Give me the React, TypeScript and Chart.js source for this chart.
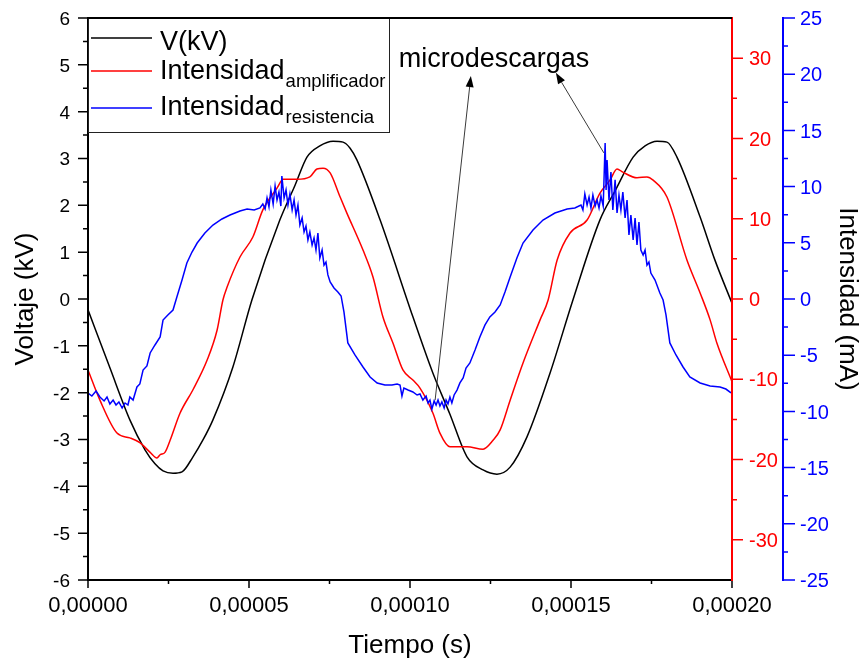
import { useEffect, useRef } from "react";
import { Chart, registerables } from "chart.js";

Chart.register(...registerables);

// Time in microseconds; the axis labels show seconds with a decimal comma
const timeTicks = [0, 50, 100, 150, 200];
const timeTickLabels = ["0,00000", "0,00005", "0,00010", "0,00015", "0,00020"];
const voltageTicks = [-6, -5, -4, -3, -2, -1, 0, 1, 2, 3, 4, 5, 6];
const ampTicks = [-30, -20, -10, 0, 10, 20, 30];
const resTicks = [-25, -20, -15, -10, -5, 0, 5, 10, 15, 20, 25];

// V(kV)
const voltageTime = [
  0, 6.8, 13.0, 17.7, 20.8, 23.3, 26.4, 29.2, 32.6, 35.7,
  38.8, 45.0, 50.9, 59.6, 64.3, 68.0, 72.0, 76.1, 79.2, 81.4,
  83.5, 90.7, 100.9, 107.1, 112.4, 117.7, 122.7, 127.0, 131.1, 136.3,
  143.5, 150.6, 159.0, 163.7, 169.3, 173.0, 176.7, 179.8, 182.9, 190.1,
  194.7, 200,
];
const voltageKV = [
  -0.23, -1.47, -2.58, -3.22, -3.52, -3.67, -3.72, -3.69, -3.37, -3.01,
  -2.58, -1.45, -0.02, 1.69, 2.43, 3.03, 3.27, 3.37, 3.35, 3.22,
  2.97, 1.69, -0.38, -1.58, -2.46, -3.37, -3.65, -3.74, -3.59, -2.95,
  -1.58, -0.02, 1.69, 2.31, 3.03, 3.27, 3.37, 3.35, 3.03, 1.75,
  0.83, -0.09,
];

// Intensidad (amplificador), mA
const ampTime = [
  0, 3.7, 9.0, 13.0, 16.1, 19.3, 21.4, 22.4, 23.9, 25.5,
  28.6, 32.6, 37.0, 40.1, 41.9, 43.2, 47.2, 51.2, 54.3, 58.7,
  60.6, 64.9, 68.9, 71.1, 73.0, 75.2, 78.3, 80.4, 85.4, 88.5,
  91.6, 94.7, 97.8, 100.9, 103.1, 107.1, 109.3, 112.4, 117.7, 122.7,
  125.8, 128.0, 131.1, 135.1, 140.4, 142.9, 145.7, 149.7, 155.0, 159.0,
  162.1, 164.3, 166.1, 170.5, 173.6, 175.5, 179.8, 186.0, 190.1, 193.2,
  195.3, 200,
];
const ampMA = [
  -8.84, -12.6, -16.7, -17.3, -17.9, -19.1, -19.8, -19.4, -19.1, -17.6,
  -14.2, -11.3, -7.6, -3.86, -0.12, 1.49, 5.23, 7.72, 11.1, 13.8,
  14.9, 14.9, 15.2, 16.2, 16.3, 15.7, 12.7, 10.7, 6.1, 2.74,
  -2.24, -5.48, -8.84, -10.1, -11.1, -14.2, -16.7, -18.4, -18.4, -18.7,
  -17.6, -16.3, -12.6, -7.97, -2.6, -0.12, 4.86, 8.22, 9.84, 13.2,
  14.8, 16.2, 15.8, 15.1, 15.2, 14.8, 12.7, 4.86, 0.75, -2.6,
  -5.48, -10.3,
];

// Intensidad (resistencia), mA
const resTime = [
  0, 1.2, 2.5, 3.7, 5.0, 5.9, 6.8, 7.8, 8.7, 9.6,
  10.6, 11.5, 12.4, 13.0, 14.0, 15.2, 16.1, 17.1, 18.3, 19.3,
  20.8, 22.4, 23.3, 24.8, 26.4, 27.6, 29.2, 30.7, 32.3, 33.9,
  36.3, 38.8, 41.6, 44.1, 47.2, 49.4, 51.6, 53.4, 54.3, 55.0,
  55.6, 56.2, 56.8, 57.5, 58.1, 58.7, 59.3, 59.9, 60.2, 60.9,
  61.5, 62.1, 62.7, 63.4, 64.0, 64.6, 65.2, 65.8, 66.5, 67.1,
  67.7, 68.3, 68.9, 69.6, 70.2, 70.8, 71.4, 72.0, 72.7, 73.3,
  73.9, 74.5, 75.2, 76.4, 77.6, 78.6, 79.5, 80.7, 82.9, 85.4,
  87.6, 89.8, 92.2, 94.4, 96.0, 96.9, 97.5, 98.1, 99.4, 100.9,
  102.2, 103.1, 104.0, 105.0, 105.6, 106.2, 106.8, 107.5, 108.1, 108.7,
  109.3, 109.9, 110.6, 111.2, 111.8, 112.4, 113.0, 113.7, 114.6, 115.5,
  116.5, 117.4, 118.6, 120.2, 121.7, 123.3, 124.8, 126.4, 128.0, 129.5,
  131.1, 133.2, 135.1, 138.2, 141.3, 145.0, 148.8, 151.2, 153.1, 153.7,
  154.3, 155.0, 155.6, 156.2, 156.8, 157.5, 158.1, 158.7, 159.3, 160.0,
  160.6, 160.9, 161.2, 161.8, 162.4, 163.0, 163.7, 164.3, 164.9, 165.5,
  166.1, 166.8, 167.4, 168.0, 168.6, 169.3, 169.9, 170.5, 171.1, 171.7,
  172.4, 173.0, 173.6, 174.2, 174.8, 176.1, 177.6, 178.6, 179.5, 180.7,
  182.6, 184.8, 186.9, 190.1, 193.2, 196.3, 198.1, 199.7,
];
const resMA = [
  -8.36, -8.63, -8.19, -8.72, -9.07, -8.72, -9.34, -8.99, -9.43, -9.16,
  -9.70, -9.25, -9.43, -8.72, -8.99, -7.83, -7.56, -6.32, -5.96, -4.80,
  -4.09, -3.38, -1.87, -1.42, -0.98, 0.18, 1.69, 3.20, 4.18, 4.98,
  5.87, 6.58, 7.12, 7.47, 7.83, 8.01, 7.92, 8.10, 8.45, 8.01,
  8.99, 8.19, 9.70, 8.45, 10.05, 8.81, 9.52, 8.27, 10.94, 8.99,
  9.70, 8.36, 9.34, 7.92, 8.81, 7.47, 8.36, 6.58, 7.21, 5.96,
  6.49, 5.25, 5.96, 4.80, 5.43, 4.36, 5.87, 3.65, 4.36, 3.02,
  3.29, 2.14, 1.51, 0.98, 0.62, 0.27, -1.16, -3.91, -4.98, -6.05,
  -6.94, -7.47, -7.65, -7.65, -7.56, -7.65, -8.63, -7.92, -8.10, -8.27,
  -8.54, -8.45, -8.99, -8.63, -9.25, -8.99, -9.79, -9.07, -9.43, -8.99,
  -9.52, -9.16, -9.70, -8.99, -9.34, -8.72, -9.25, -8.54, -8.10, -7.47,
  -7.03, -6.14, -5.69, -4.54, -3.38, -2.31, -1.60, -1.16, -0.53, 0.62,
  1.96, 3.65, 4.98, 6.14, 7.03, 7.65, 8.01, 8.10, 8.36, 7.92,
  9.34, 8.36, 9.07, 8.10, 9.25, 8.27, 8.81, 8.10, 9.16, 8.27,
  13.88, 9.70, 12.37, 8.81, 11.3, 7.92, 10.6, 7.65, 9.25, 7.92,
  9.52, 7.21, 8.81, 5.69, 7.47, 5.25, 7.21, 4.80, 6.85, 4.36,
  3.91, 4.36, 3.02, 3.29, 2.31, 1.69, 0.53, -0.09, -1.42, -3.91,
  -4.98, -6.05, -6.94, -7.47, -7.74, -7.83, -8.01, -8.36,
];

const FONT = '"Liberation Sans", Arial, Helvetica, sans-serif';
const RED = "#ff0000";
const BLUE = "#0000ff";
const BLACK = "#000000";

function midpoints(ticks: number[]): number[] {
  const out: number[] = [];
  for (let i = 0; i < ticks.length - 1; i++) out.push((ticks[i] + ticks[i + 1]) / 2);
  return out;
}

function toPoints(xs: number[], ys: number[]) {
  return xs.map((x, i) => ({ x, y: ys[i] }));
}

function drawArrow(ctx: CanvasRenderingContext2D, x1: number, y1: number, x2: number, y2: number) {
  const ang = Math.atan2(y2 - y1, x2 - x1);
  const len = 11;
  const half = 4;
  const c = Math.cos(ang);
  const s = Math.sin(ang);
  ctx.strokeStyle = "#3a3a3a";
  ctx.lineWidth = 1;
  ctx.beginPath();
  ctx.moveTo(x1, y1);
  ctx.lineTo(x2 - len * c, y2 - len * s);
  ctx.stroke();
  ctx.fillStyle = BLACK;
  ctx.beginPath();
  ctx.moveTo(x2, y2);
  ctx.lineTo(x2 - len * c + half * s, y2 - len * s - half * c);
  ctx.lineTo(x2 - len * c - half * s, y2 - len * s + half * c);
  ctx.closePath();
  ctx.fill();
}

// Axes, ticks, titles, legend and the annotation, in the Origin style
const decorPlugin = {
  id: "originDecor",
  afterDraw(chart: any) {
    const { ctx, chartArea: a, scales } = chart;
    const sx = scales.x;
    const sv = scales.yV;
    const sa = scales.yA;
    const sr = scales.yR;
    const blueX = a.right + 51;
    ctx.save();
    ctx.lineCap = "butt";

    // plot frame (top, left, bottom)
    ctx.strokeStyle = BLACK;
    ctx.lineWidth = 2;
    ctx.beginPath();
    ctx.moveTo(a.left, a.top);
    ctx.lineTo(a.right, a.top);
    ctx.moveTo(a.left, a.top - 1);
    ctx.lineTo(a.left, a.bottom + 1);
    ctx.moveTo(a.left - 1, a.bottom);
    ctx.lineTo(a.right, a.bottom);
    ctx.stroke();

    // left voltage axis ticks and labels
    ctx.lineWidth = 1.5;
    ctx.beginPath();
    for (const v of voltageTicks) {
      const y = sv.getPixelForValue(v);
      ctx.moveTo(a.left - 10, y);
      ctx.lineTo(a.left, y);
    }
    for (const v of midpoints(voltageTicks)) {
      const y = sv.getPixelForValue(v);
      ctx.moveTo(a.left - 5, y);
      ctx.lineTo(a.left, y);
    }
    ctx.stroke();
    ctx.fillStyle = BLACK;
    ctx.font = `19px ${FONT}`;
    ctx.textAlign = "right";
    ctx.textBaseline = "alphabetic";
    for (const v of voltageTicks) {
      const y = sv.getPixelForValue(v);
      ctx.fillText(String(v), a.left - 18, y + 0.36 * 19);
    }

    // bottom time axis
    ctx.beginPath();
    for (const t of timeTicks) {
      const x = sx.getPixelForValue(t);
      ctx.moveTo(x, a.bottom);
      ctx.lineTo(x, a.bottom + 8);
    }
    for (const t of midpoints(timeTicks)) {
      const x = sx.getPixelForValue(t);
      ctx.moveTo(x, a.bottom);
      ctx.lineTo(x, a.bottom + 4);
    }
    ctx.stroke();
    ctx.font = `22px ${FONT}`;
    ctx.textAlign = "center";
    timeTicks.forEach((t, i) => {
      ctx.fillText(timeTickLabels[i], sx.getPixelForValue(t), a.bottom + 32);
    });

    // red axis (amplificador)
    ctx.strokeStyle = RED;
    ctx.fillStyle = RED;
    ctx.lineWidth = 2;
    ctx.beginPath();
    ctx.moveTo(a.right, a.top - 1);
    ctx.lineTo(a.right, a.bottom + 1);
    ctx.stroke();
    ctx.lineWidth = 1.5;
    ctx.beginPath();
    for (const v of ampTicks) {
      const y = sa.getPixelForValue(v);
      ctx.moveTo(a.right, y);
      ctx.lineTo(a.right + 11, y);
    }
    for (const v of midpoints(ampTicks)) {
      const y = sa.getPixelForValue(v);
      ctx.moveTo(a.right, y);
      ctx.lineTo(a.right + 5, y);
    }
    ctx.stroke();
    ctx.font = `20px ${FONT}`;
    ctx.textAlign = "left";
    for (const v of ampTicks) {
      ctx.fillText(String(v), a.right + 17, sa.getPixelForValue(v) + 0.36 * 20);
    }

    // blue axis (resistencia)
    ctx.strokeStyle = BLUE;
    ctx.fillStyle = BLUE;
    ctx.lineWidth = 2;
    ctx.beginPath();
    ctx.moveTo(blueX, a.top - 1);
    ctx.lineTo(blueX, a.bottom + 1);
    ctx.stroke();
    ctx.lineWidth = 1.5;
    ctx.beginPath();
    for (const v of resTicks) {
      const y = sr.getPixelForValue(v);
      ctx.moveTo(blueX, y);
      ctx.lineTo(blueX + 12, y);
    }
    for (const v of midpoints(resTicks)) {
      const y = sr.getPixelForValue(v);
      ctx.moveTo(blueX, y);
      ctx.lineTo(blueX + 5, y);
    }
    ctx.stroke();
    for (const v of resTicks) {
      ctx.fillText(String(v), blueX + 17, sr.getPixelForValue(v) + 0.36 * 20);
    }

    // axis titles
    ctx.fillStyle = BLACK;
    ctx.font = `26px ${FONT}`;
    ctx.textAlign = "center";
    ctx.fillText("Tiempo (s)", (a.left + a.right) / 2 + 0, a.bottom + 73);
    ctx.save();
    ctx.translate(33, (a.top + a.bottom) / 2);
    ctx.rotate(-Math.PI / 2);
    ctx.fillText("Voltaje (kV)", 0, 0);
    ctx.restore();
    ctx.save();
    ctx.translate(840, (a.top + a.bottom) / 2);
    ctx.rotate(Math.PI / 2);
    ctx.fillText("Intensidad (mA)", 0, 0);
    ctx.restore();

    // legend
    const lx = a.left;
    const ly = a.top;
    ctx.fillStyle = "#ffffff";
    ctx.fillRect(lx + 1, ly + 1, 300, 113);
    ctx.strokeStyle = "#222";
    ctx.lineWidth = 1;
    ctx.strokeRect(lx + 0.5, ly + 0.5, 301, 114);
    ctx.strokeStyle = BLACK;
    ctx.lineWidth = 2;
    ctx.beginPath();
    ctx.moveTo(a.left, a.top);
    ctx.lineTo(a.right, a.top);
    ctx.stroke();
    const rows = [
      { color: BLACK, main: "V(kV)", sub: "", lineY: 20, base: 32 },
      { color: RED, main: "Intensidad", sub: "amplificador", lineY: 53, base: 61 },
      { color: BLUE, main: "Intensidad", sub: "resistencia", lineY: 90, base: 97 },
    ];
    for (const r of rows) {
      ctx.strokeStyle = r.color;
      ctx.lineWidth = 1.5;
      ctx.beginPath();
      ctx.moveTo(lx + 3, ly + r.lineY);
      ctx.lineTo(lx + 64, ly + r.lineY);
      ctx.stroke();
      ctx.fillStyle = BLACK;
      ctx.textAlign = "left";
      ctx.font = `27px ${FONT}`;
      ctx.fillText(r.main, lx + 72, ly + r.base);
      if (r.sub) {
        const w = ctx.measureText(r.main).width;
        ctx.font = `18.5px ${FONT}`;
        ctx.fillText(r.sub, lx + 72 + w + 1, ly + r.base + 8);
      }
    }

    // annotation: microdescargas
    ctx.fillStyle = BLACK;
    ctx.font = `27px ${FONT}`;
    ctx.textAlign = "center";
    ctx.fillText("microdescargas", sx.getPixelForValue(126.1), sv.getPixelForValue(4.95));
    drawArrow(ctx, sx.getPixelForValue(107.8), sv.getPixelForValue(-2.16), sx.getPixelForValue(118.9), sv.getPixelForValue(4.76));
    drawArrow(ctx, sx.getPixelForValue(160.2), sv.getPixelForValue(3.12), sx.getPixelForValue(145.3), sv.getPixelForValue(4.83));

    ctx.restore();
  },
};

export default function App() {
  const canvasRef = useRef<HTMLCanvasElement | null>(null);

  useEffect(() => {
    const canvas = canvasRef.current;
    if (!canvas) return;
    const chart = new Chart(canvas, {
      type: "line",
      data: {
        datasets: [
          {
            label: "Intensidad resistencia",
            data: toPoints(resTime, resMA),
            yAxisID: "yR",
            borderColor: BLUE,
            borderWidth: 1.5,
            pointRadius: 0,
            tension: 0,
            order: 0,
          },
          {
            label: "Intensidad amplificador",
            data: toPoints(ampTime, ampMA),
            yAxisID: "yA",
            borderColor: RED,
            borderWidth: 1.5,
            pointRadius: 0,
            cubicInterpolationMode: "monotone",
            order: 1,
          },
          {
            label: "V(kV)",
            data: toPoints(voltageTime, voltageKV),
            yAxisID: "yV",
            borderColor: BLACK,
            borderWidth: 1.5,
            pointRadius: 0,
            cubicInterpolationMode: "monotone",
            order: 2,
          },
        ],
      },
      options: {
        responsive: true,
        maintainAspectRatio: false,
        animation: false,
        events: [],
        layout: { padding: { left: 88, right: 132, top: 18, bottom: 81 } },
        plugins: { legend: { display: false }, tooltip: { enabled: false } },
        scales: {
          x: { type: "linear", display: false, min: 0, max: 200 },
          yV: { type: "linear", display: false, min: -6, max: 6 },
          yA: { type: "linear", display: false, min: -35, max: 35 },
          yR: { type: "linear", display: false, min: -25, max: 25 },
        },
      },
      plugins: [decorPlugin],
    });
    return () => chart.destroy();
  }, []);

  return (
    <div style={{ position: "absolute", left: 0, top: 0, width: 864, height: 661, background: "#fff" }}>
      <canvas ref={canvasRef} />
    </div>
  );
}
